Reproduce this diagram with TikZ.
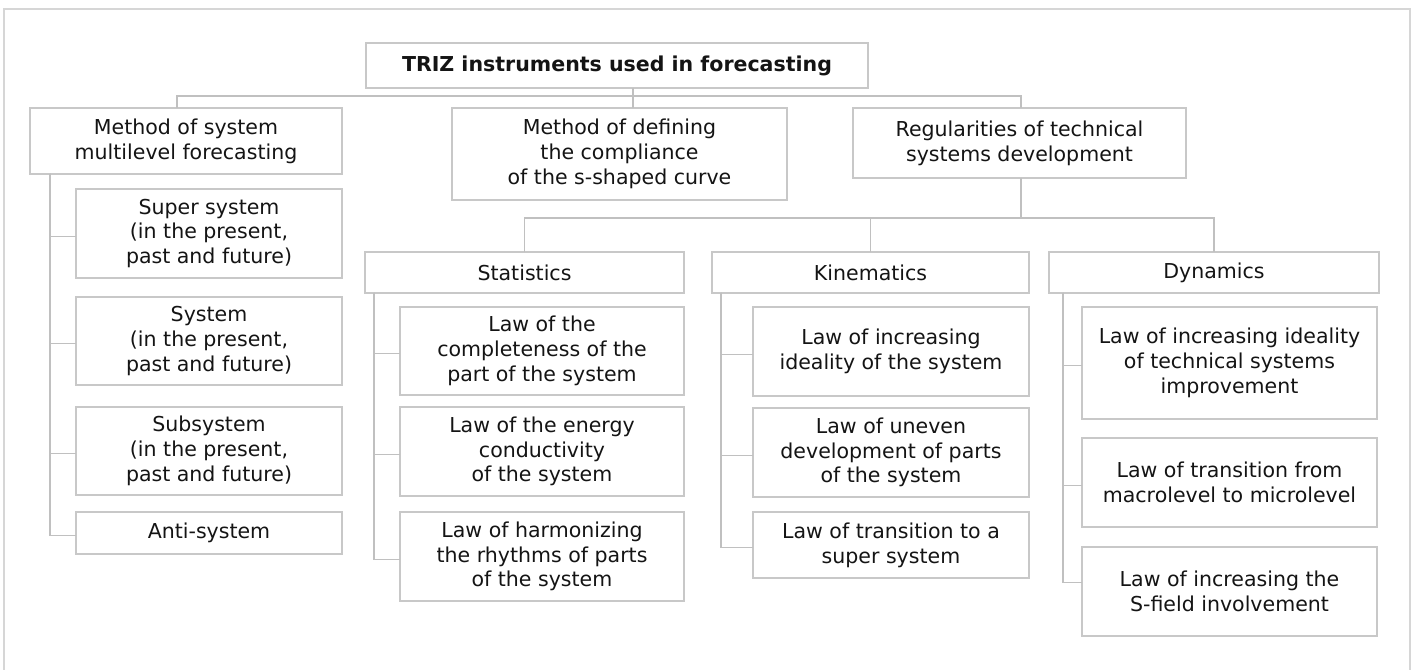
\documentclass[tikz,border=0pt]{standalone}
\usepackage{fontspec}
\setmainfont{DejaVu Sans}
\begin{document}
\definecolor{edgegray}{RGB}{200,200,200}
\definecolor{linkgray}{RGB}{192,192,192}
\definecolor{framegray}{RGB}{214,214,214}
\definecolor{inkcol}{RGB}{20,20,20}
\tikzset{
  box/.style={draw=edgegray, line width=0.9pt, inner sep=0pt, outer sep=0pt,
    align=center, text=inkcol, font=\fontsize{15.4pt}{18.6pt}\selectfont},
  link/.style={draw=linkgray, line width=0.9pt},
  frameline/.style={draw=framegray, line width=2.2pt}
}
% box given by its corners in pixel units: name, x1, y1, x2, y2, text
\newcommand\pbox[6]{%
  \node[box, minimum width={(#4-#2)*0.75pt}, minimum height={(#5-#3)*0.75pt}]
    (#1) at ({(#2+#4)/2},{(#3+#5)/2}) {#6};}
\begin{tikzpicture}[x=0.75pt, y=-0.75pt]
\useasboundingbox (0,0) rectangle (1417,670);
% outer frame
\draw[frameline] (4,672) -- (4,9) -- (1410,9) -- (1410,672);

% top level
\pbox{root}{366}{43}{868}{88}{\textbf{TRIZ instruments used in forecasting}}
\pbox{A}{30}{108}{342}{174}{Method of system\\multilevel forecasting}
\pbox{B}{452}{108}{787}{200}{Method of defining\\the compliance\\of the s-shaped curve}
\pbox{C}{853}{108}{1186}{178}{Regularities of technical\\systems development}

% multilevel forecasting branch
\pbox{A1}{76}{189}{342}{278}{Super system\\(in the present,\\past and future)}
\pbox{A2}{76}{297}{342}{385}{System\\(in the present,\\past and future)}
\pbox{A3}{76}{407}{342}{495}{Subsystem\\(in the present,\\past and future)}
\pbox{A4}{76}{512}{342}{554}{Anti-system}

% regularities groups
\pbox{Stat}{365}{252}{684}{293}{Statistics}
\pbox{Kin}{712}{252}{1029}{293}{Kinematics}
\pbox{Dyn}{1049}{252}{1379}{293}{Dynamics}

\pbox{S1}{400}{307}{684}{395}{Law of the\\completeness of the\\part of the system}
\pbox{S2}{400}{407}{684}{496}{Law of the energy\\conductivity\\of the system}
\pbox{S3}{400}{512}{684}{601}{Law of harmonizing\\the rhythms of parts\\of the system}

\pbox{K1}{753}{307}{1029}{396}{Law of increasing\\ideality of the system}
\pbox{K2}{753}{408}{1029}{497}{Law of uneven\\development of parts\\of the system}
\pbox{K3}{753}{512}{1029}{578}{Law of transition to a\\super system}

\pbox{D1}{1082}{307}{1377}{419}{Law of increasing ideality\\of technical systems\\improvement}
\pbox{D2}{1082}{438}{1377}{527}{Law of transition from\\macrolevel to microlevel}
\pbox{D3}{1082}{547}{1377}{636}{Law of increasing the\\S-field involvement}

% bus under the root
\coordinate (rootdrop) at (633,96);
\coordinate (busL) at (177,96);
\coordinate (busR) at (1021,96);
\draw[link] (root.south -| rootdrop) -- (B.north -| rootdrop);
\draw[link] (A.north -| busL) |- (busR) -- (C.north -| busR);

% bus under the regularities box
\coordinate (cbus) at (1021,218);
\draw[link] (C.south -| cbus) -- (cbus);
\draw[link] (Stat.north) |- (cbus);
\draw[link] (Dyn.north) |- (cbus);
\draw[link] (Kin.north) -- (Kin.north |- cbus);

% side trunks
\coordinate (trA) at (50,0);
\coordinate (trS) at (374,0);
\coordinate (trK) at (721,0);
\coordinate (trD) at (1063,0);

\foreach \c in {A1,A2,A3,A4}
  \draw[link] (A.south -| trA) |- ([yshift=-2pt]\c.west);
\foreach \c in {S1,S2,S3}
  \draw[link] (Stat.south -| trS) |- ([yshift=-2pt]\c.west);
\foreach \c in {K1,K2,K3}
  \draw[link] (Kin.south -| trK) |- ([yshift=-2pt]\c.west);
\foreach \c in {D1,D2}
  \draw[link] (Dyn.south -| trD) |- ([yshift=-2pt]\c.west);
\draw[link] (Dyn.south -| trD) |- ([yshift=7pt]D3.west);
\end{tikzpicture}
\end{document}
